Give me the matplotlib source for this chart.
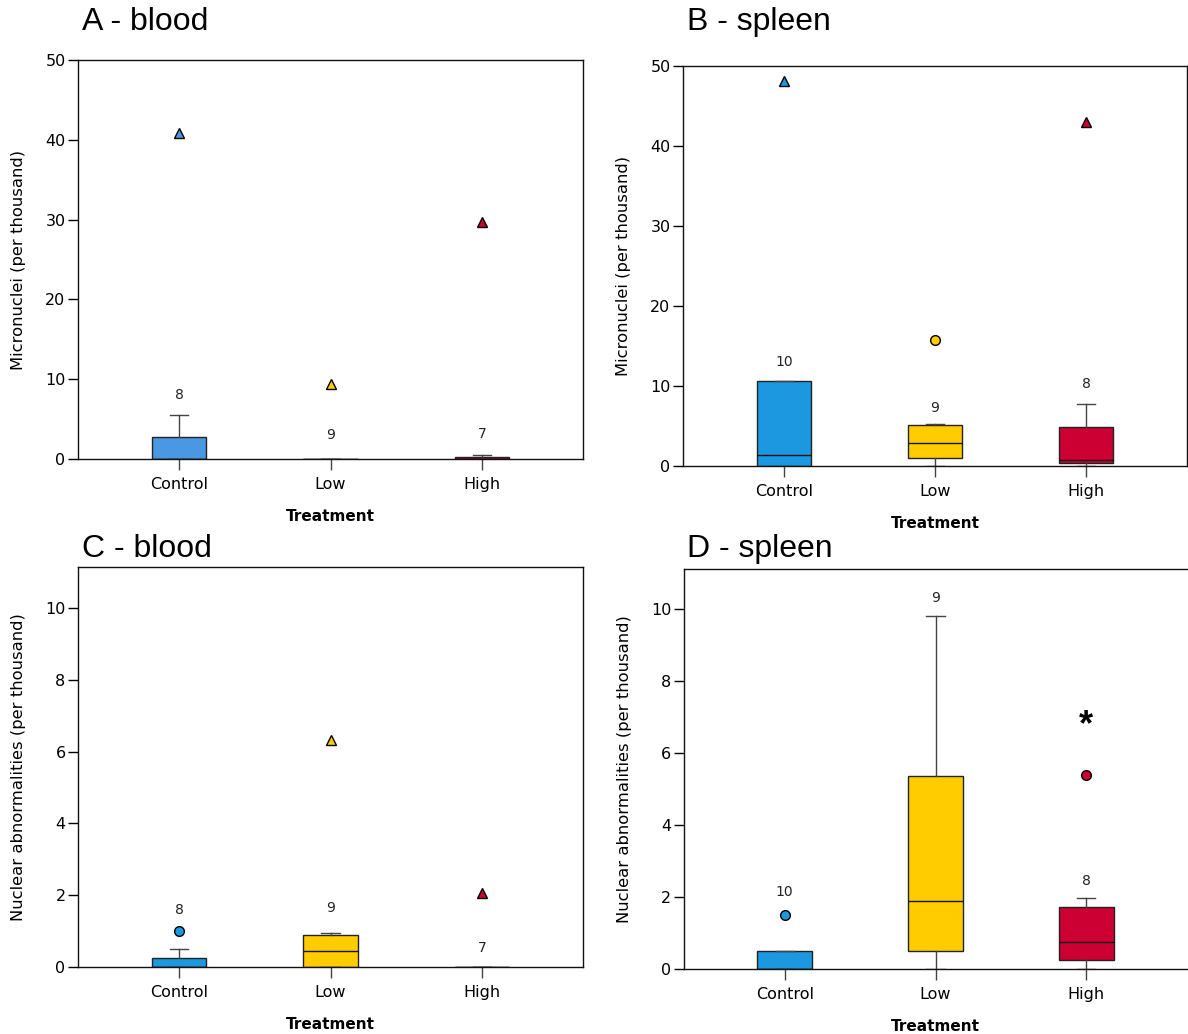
import matplotlib
matplotlib.use("Agg")
import matplotlib.pyplot as plt

plt.rcParams['font.family'] = ['Liberation Sans', 'DejaVu Sans']

categories = ["Control", "Low", "High"]
colors_blood = ["#4A98E3", "#FFCC00", "#CC0033"]
colors_spleen = ["#1B98E0", "#FFCC00", "#CC0033"]

# Panel A - blood micronuclei
A_q1 = [0.0, 0.0, 0.0]
A_med = [0.0, 0.0, 0.0]
A_q3 = [2.75, 0.0, 0.3]
A_lo = [0.0, 0.0, 0.0]
A_hi = [5.5, 0.0, 0.5]
A_circles = [[], [], []]
A_triangles = [[40.9], [9.4], [29.7]]
A_n = ["8", "9", "7"]
A_n_y = [8.0, 3.0, 3.1]

# Panel B - spleen micronuclei
B_q1 = [0.0, 1.0, 0.4]
B_med = [1.4, 2.9, 0.7]
B_q3 = [10.6, 5.1, 4.9]
B_lo = [0.0, 0.0, 0.0]
B_hi = [10.6, 5.2, 7.8]
B_circles = [[], [15.8], []]
B_triangles = [[48.1], [], [43.0]]
B_n = ["10", "9", "8"]
B_n_y = [13.0, 7.2, 10.3]

# Panel C - blood nuclear abnormalities
C_q1 = [0.0, 0.0, 0.0]
C_med = [0.0, 0.45, 0.0]
C_q3 = [0.25, 0.9, 0.0]
C_lo = [0.0, 0.0, 0.0]
C_hi = [0.5, 0.95, 0.0]
C_circles = [[1.0], [], []]
C_triangles = [[], [6.32], [2.05]]
C_n = ["8", "9", "7"]
C_n_y = [1.6, 1.63, 0.53]

# Panel D - spleen nuclear abnormalities
D_q1 = [0.0, 0.5, 0.25]
D_med = [0.0, 1.9, 0.75]
D_q3 = [0.5, 5.35, 1.72]
D_lo = [0.0, 0.0, 0.0]
D_hi = [0.5, 9.8, 1.97]
D_circles = [[1.5], [], [5.37]]
D_triangles = [[], [], []]
D_n = ["10", "9", "8"]
D_n_y = [2.15, 10.3, 2.45]

W, H = 1188, 1034
fig = plt.figure(figsize=(W / 100, H / 100), dpi=100)


def rect(l, t, r, b):
    return [l / W, 1 - b / H, (r - l) / W, (b - t) / H]


def panel(pos, title, title_xy, q1, med, q3, lo, hi, circles, tris, nlab, ny,
          colors, ylim, yticks, ylabel, right_spine=True):
    ax = fig.add_axes(pos)
    xs = [0, 1, 2]
    stats = []
    for i in range(3):
        stats.append(dict(q1=q1[i], med=med[i], q3=q3[i], whislo=lo[i],
                          whishi=hi[i], fliers=[]))
    bp = ax.bxp(stats, positions=xs, widths=0.36, patch_artist=True,
                showfliers=False, capwidths=0.12,
                boxprops=dict(linewidth=1.0, edgecolor="#222222"),
                medianprops=dict(color="#111111", linewidth=1.0),
                whiskerprops=dict(color="#444444", linewidth=1.0),
                capprops=dict(color="#444444", linewidth=1.0))
    for patch, c in zip(bp['boxes'], colors):
        patch.set_facecolor(c)
    for i in range(3):
        for v in circles[i]:
            ax.plot(xs[i], v, 'o', ms=7, mfc=colors[i], mec="black", mew=1.0,
                    clip_on=False, zorder=5)
        for v in tris[i]:
            ax.plot(xs[i], v, '^', ms=7, mfc=colors[i], mec="black", mew=1.0,
                    clip_on=False, zorder=5)
        ax.text(xs[i], ny[i], nlab[i], ha="center", va="center", fontsize=10,
                color="#222222", family=['DejaVu Sans'])
    ax.set_xlim(-0.667, 2.667)
    ax.set_ylim(*ylim)
    ax.set_yticks(yticks)
    ax.set_xticks(xs)
    ax.set_xticklabels(categories, fontsize=11.5, family=['DejaVu Sans'])
    ax.tick_params(axis='y', labelsize=11.5, length=7, width=1.0, direction='out',
                   pad=2)
    ax.tick_params(axis='x', length=8, width=1.0, direction='out', pad=5,
                   color="#444444")
    for lab in ax.get_yticklabels():
        lab.set_family(['DejaVu Sans'])
    ax.set_ylabel(ylabel, fontsize=11.8, family=['DejaVu Sans'], labelpad=14)
    ax.set_xlabel("Treatment", fontsize=11, fontweight="bold",
                  family=['DejaVu Sans'], labelpad=12)
    for s in ax.spines.values():
        s.set_linewidth(1.0)
        s.set_color("#111111")
    ax.spines['right'].set_visible(right_spine)
    fig.text(title_xy[0] / W, 1 - title_xy[1] / H, title, ha="left",
             va="center", fontsize=23)
    return ax


axA = panel(rect(78, 60, 583, 459), "A - blood", (82, 22), A_q1, A_med, A_q3,
            A_lo, A_hi, A_circles, A_triangles, A_n, A_n_y, colors_blood,
            (0, 50), [0, 10, 20, 30, 40, 50], "Micronuclei (per thousand)")
axB = panel(rect(683, 66, 1187, 466), "B - spleen", (687, 22), B_q1, B_med, B_q3,
            B_lo, B_hi, B_circles, B_triangles, B_n, B_n_y, colors_spleen,
            (0, 50), [0, 10, 20, 30, 40, 50], "Micronuclei (per thousand)")
axC = panel(rect(78, 567, 583, 967), "C - blood", (82, 549), C_q1, C_med, C_q3,
            C_lo, C_hi, C_circles, C_triangles, C_n, C_n_y, colors_spleen,
            (0, 11.14), [0, 2, 4, 6, 8, 10], "Nuclear abnormalities (per thousand)")
axD = panel(rect(684, 569, 1187, 969), "D - spleen", (687, 549), D_q1, D_med, D_q3,
            D_lo, D_hi, D_circles, D_triangles, D_n, D_n_y, colors_spleen,
            (0, 11.1), [0, 2, 4, 6, 8, 10], "Nuclear abnormalities (per thousand)",
            right_spine=False)
axD.text(2, 6.75, "*", ha="center", va="center", fontsize=26, fontweight="bold")

fig.savefig("out.png", dpi=100)
